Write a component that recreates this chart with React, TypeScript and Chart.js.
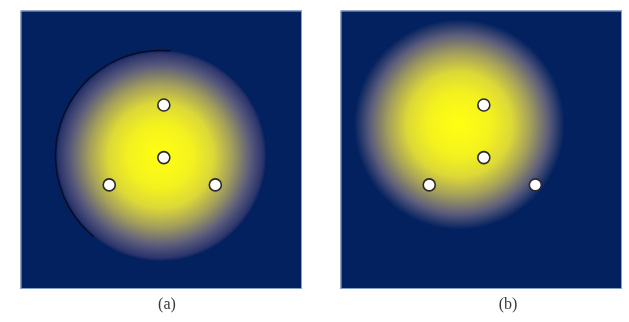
import React, { useEffect, useRef } from "react";
import { Chart, registerables } from "chart.js";

Chart.register(...registerables);

// ---- data ----
const panelLabels = ["(a)", "(b)"];
// centre of the yellow glow (axis units 0..100) and its radius (x units)
const glowX = [49.8, 42.2];
const glowY = [47.9, 59.1];
const glowR = [37.4, 37.4];
const glowRim = [true, false];
// hole / sensor positions (same in both panels)
const holeX = [50.9, 50.9, 31.5, 69.2];
const holeY = [66.1, 47.2, 37.4, 37.4];
const axisMin = 0;
const axisMax = 100;

const NAVY = "#03215f";

const panelPlugin = {
  id: "panel",
  beforeDatasetsDraw(chart: any, _args: any, opts: any) {
    const { ctx, chartArea: a, scales } = chart;
    const i = opts.index as number;
    ctx.save();
    ctx.fillStyle = NAVY;
    ctx.fillRect(a.left, a.top, a.width, a.height);
    ctx.beginPath();
    ctx.rect(a.left, a.top, a.width, a.height);
    ctx.clip();
    const cx = scales.x.getPixelForValue(glowX[i]);
    const cy = scales.y.getPixelForValue(glowY[i]);
    const r = scales.x.getPixelForValue(glowX[i] + glowR[i]) - cx;
    const g = ctx.createRadialGradient(cx, cy, 0, cx, cy, r);
    g.addColorStop(0, "#ffff12");
    g.addColorStop(0.3, "#f4f21e");
    g.addColorStop(0.5, "#dcd838");
    g.addColorStop(0.68, "#a39e5c");
    g.addColorStop(0.85, "#5c5d7c");
    if (glowRim[i]) {
      g.addColorStop(0.97, "#2c356c");
      g.addColorStop(1, "#0c2462");
    } else {
      g.addColorStop(1, NAVY);
    }
    ctx.fillStyle = g;
    ctx.beginPath();
    ctx.arc(cx, cy, r, 0, Math.PI * 2);
    ctx.fill();
    if (glowRim[i]) {
      ctx.strokeStyle = "rgba(10,10,25,0.9)";
      ctx.lineWidth = 1.5;
      ctx.beginPath();
      ctx.arc(cx, cy, r, Math.PI * 0.72, Math.PI * 1.53);
      ctx.stroke();
    }
    ctx.restore();
    ctx.save();
    ctx.strokeStyle = "rgba(150,172,210,0.9)";
    ctx.lineWidth = 1;
    ctx.strokeRect(a.left + 0.5, a.top + 0.5, a.width - 1, a.height - 1);
    ctx.restore();
  },
};

function Panel({ index, left, width }: { index: number; left: number; width: number }) {
  const ref = useRef<HTMLCanvasElement | null>(null);
  useEffect(() => {
    if (!ref.current) return;
    const spare = width - 289;
    const chart = new Chart(ref.current, {
      type: "scatter",
      data: {
        datasets: [
          {
            data: holeX.map((x, k) => ({ x, y: holeY[k] })),
            pointRadius: 6,
            pointBackgroundColor: "#ffffff",
            pointBorderColor: "#2a2a2a",
            pointBorderWidth: 1.6,
          },
        ],
      },
      options: {
        responsive: false,
        animation: false,
        devicePixelRatio: 1,
        layout: { padding: 0 },
        scales: {
          x: { type: "linear", min: axisMin, max: axisMax, display: false },
          y: { type: "linear", min: axisMin, max: axisMax, display: false },
          spacer: {
            type: "linear",
            position: "right",
            axis: "y",
            min: 0,
            max: 1,
            display: true,
            grid: { display: false, drawTicks: false },
            border: { display: false },
            ticks: { display: false },
            afterFit: (s: any) => {
              s.width = spare;
            },
          },
        },
        plugins: {
          legend: { display: false },
          tooltip: { enabled: false },
          title: {
            display: true,
            text: panelLabels[index],
            position: "bottom",
            color: "#3a3a3a",
            font: { family: "'Liberation Serif', serif", size: 16, weight: "normal" },
            padding: { top: 6.4, bottom: 7.4 },
          },
          // @ts-ignore
          panel: { index },
        },
      },
      plugins: [panelPlugin],
    } as any);
    return () => chart.destroy();
  }, [index, width]);
  return (
    <canvas
      ref={ref}
      width={width}
      height={319}
      style={{ position: "absolute", left, top: 3, width, height: 319, display: "block" }}
    />
  );
}

export default function App() {
  return (
    <div
      style={{
        position: "fixed",
        left: 0,
        top: 0,
        width: 629,
        height: 322,
        overflow: "hidden",
        background: "#ffffff",
      }}
    >
      <Panel index={0} left={13} width={308} />
      <Panel index={1} left={333} width={350} />
    </div>
  );
}
